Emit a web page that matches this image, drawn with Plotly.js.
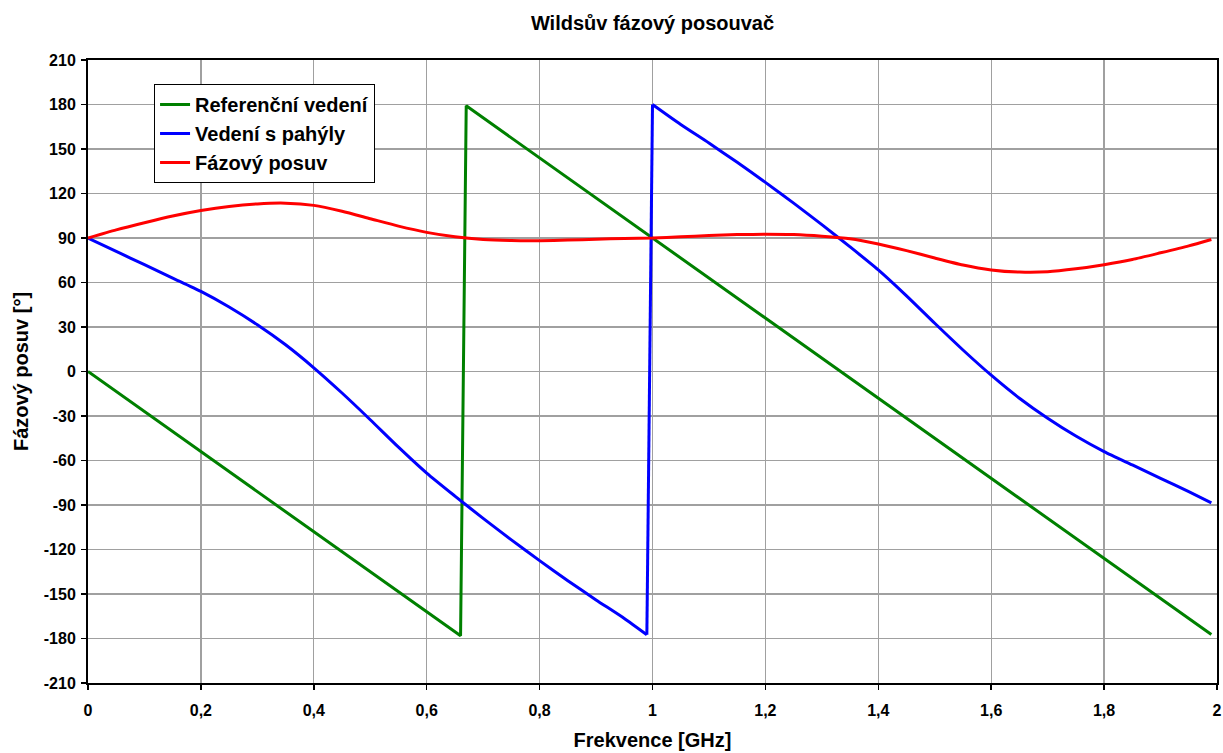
<!DOCTYPE html>
<html>
<head>
<meta charset="utf-8">
<script src="https://cdn.plot.ly/plotly-3.0.1.min.js"></script>
<style>
  html, body { margin: 0; padding: 0; background: #fff; }
  #chart { width: 1223px; height: 753px; }
</style>
</head>
<body>
<div id="chart"></div>
<script>
// Frequency points (GHz) and phases (degrees)
const refFreq = [0, 0.66, 0.67, 1.99];
const refPhase = [0, -178.2, 179.1, -177.3];

const stubFreq = [0, 0.05, 0.1, 0.15, 0.2, 0.25, 0.3, 0.35, 0.4, 0.45, 0.5, 0.55, 0.6, 0.65, 0.7, 0.75, 0.8, 0.85, 0.9, 0.95, 0.99,
                  1.0, 1.05, 1.1, 1.15, 1.2, 1.25, 1.3, 1.35, 1.4, 1.45, 1.5, 1.55, 1.6, 1.65, 1.7, 1.75, 1.8, 1.85, 1.9, 1.95, 1.99];
const stubPhase = [90, 81, 72, 63, 54, 43.5, 31.5, 18, 2.5, -14.5, -32.5, -51, -68.5, -84, -99, -113.5, -127.5, -141, -154, -166.5, -177.5,
                   180, 166.5, 154, 141, 127.5, 113.5, 99, 84, 68.5, 51, 32.5, 14.5, -2.5, -18, -31.5, -43.5, -54, -63, -72, -81, -88.5];

const shiftFreq = [0, 0.05, 0.1, 0.15, 0.2, 0.25, 0.3, 0.35, 0.4, 0.45, 0.5, 0.55, 0.6, 0.65, 0.7, 0.75, 0.8, 0.85, 0.9, 0.95, 1.0,
                   1.05, 1.1, 1.15, 1.2, 1.25, 1.3, 1.35, 1.4, 1.45, 1.5, 1.55, 1.6, 1.65, 1.7, 1.75, 1.8, 1.85, 1.9, 1.95, 1.99];
const shiftPhase = [90, 95.5, 100.3, 104.8, 108.5, 111.3, 113, 113.5, 112, 108, 103, 98, 93.8, 90.8, 89, 88.3, 88.2, 88.6, 89.2, 89.7, 90,
                    90.8, 91.7, 92.3, 92.6, 92.3, 91.2, 89.5, 86, 81.5, 76.5, 71.8, 68.5, 67, 67.2, 69.2, 72, 75.5, 80, 84.7, 89];

const seriesNames = ['Referenční vedení', 'Vedení s pahýly', 'Fázový posuv'];

const xTickVals = [0, 0.2, 0.4, 0.6, 0.8, 1, 1.2, 1.4, 1.6, 1.8, 2];
const xTickText = ['0', '0,2', '0,4', '0,6', '0,8', '1', '1,2', '1,4', '1,6', '1,8', '2'];
const yTickVals = [-210, -180, -150, -120, -90, -60, -30, 0, 30, 60, 90, 120, 150, 180, 210];
const yTickText = ['-210', '-180', '-150', '-120', '-90', '-60', '-30', '0', '30', '60', '90', '120', '150', '180', '210'];

const FONT = '"Liberation Sans", Arial, sans-serif';
const bold = s => '<b>' + s + '</b>';

// The stubbed-line phase wraps from -180 to +180 at 1 GHz: each smooth branch is
// drawn as a spline and the wrap itself as a straight segment.
const wrapAt = stubFreq.indexOf(1.0);
const BLUE = { color: '#0000ff', width: 3 };

const traces = [
  { x: refFreq, y: refPhase, name: seriesNames[0], legendgroup: 'a', mode: 'lines',
    line: { color: '#008000', width: 3 } },
  { x: stubFreq.slice(0, wrapAt), y: stubPhase.slice(0, wrapAt), name: seriesNames[1], legendgroup: 'b', mode: 'lines',
    line: Object.assign({ shape: 'spline', smoothing: 0.6 }, BLUE) },
  { x: stubFreq.slice(wrapAt - 1, wrapAt + 1), y: stubPhase.slice(wrapAt - 1, wrapAt + 1), name: seriesNames[1],
    legendgroup: 'b', showlegend: false, mode: 'lines', line: BLUE },
  { x: stubFreq.slice(wrapAt), y: stubPhase.slice(wrapAt), name: seriesNames[1], legendgroup: 'b', showlegend: false,
    mode: 'lines', line: Object.assign({ shape: 'spline', smoothing: 0.6 }, BLUE) },
  { x: shiftFreq, y: shiftPhase, name: seriesNames[2], legendgroup: 'c', mode: 'lines',
    line: { color: '#ff0000', width: 3, shape: 'spline', smoothing: 0.6 } }
];

const layout = {
  width: 1223,
  height: 753,
  paper_bgcolor: '#ffffff',
  plot_bgcolor: '#ffffff',
  margin: { l: 88, r: 6, t: 60, b: 70 },
  font: { family: FONT, color: '#000', size: 16 },
  title: {
    text: bold('Wildsův fázový posouvač'),
    font: { family: FONT, size: 20, color: '#000' },
    x: 0.5, xref: 'paper', xanchor: 'center',
    y: 1 - 23 / 753, yref: 'container', yanchor: 'middle'
  },
  xaxis: {
    range: [0, 2],
    tickvals: xTickVals,
    ticktext: xTickText.map(bold),
    ticks: 'outside', ticklen: 5, tickwidth: 1.5, tickcolor: '#000',
    ticklabelstandoff: 7,
    tickfont: { family: FONT, size: 16, color: '#000' },
    showgrid: true, gridcolor: '#a0a0a0', gridwidth: 1.3,
    showline: true, linecolor: '#000', linewidth: 2, mirror: true,
    zeroline: false,
    title: { text: bold('Frekvence [GHz]'), font: { family: FONT, size: 20, color: '#000' }, standoff: 15 }
  },
  yaxis: {
    range: [-210, 210],
    tickvals: yTickVals,
    ticktext: yTickText.map(bold),
    ticks: 'outside', ticklen: 5, tickwidth: 1.5, tickcolor: '#000',
    ticklabelstandoff: 2,
    tickfont: { family: FONT, size: 16, color: '#000' },
    showgrid: true, gridcolor: '#a0a0a0', gridwidth: 1.3,
    showline: true, linecolor: '#000', linewidth: 2, mirror: true,
    zeroline: false,
    title: { text: bold('Fázový posuv [°]'), font: { family: FONT, size: 20, color: '#000' }, standoff: 10 }
  },
  showlegend: true,
  legend: {
    x: 0.0585, xanchor: 'left',
    y: 0.9615, yanchor: 'top',
    bgcolor: '#ffffff',
    bordercolor: '#000', borderwidth: 1,
    font: { family: FONT, size: 20, color: '#000', weight: 'bold' },
    traceorder: 'grouped',
    tracegroupgap: 0,
    itemwidth: 30
  }
};

Plotly.newPlot('chart', traces, layout, { displayModeBar: false, staticPlot: true });
</script>
</body>
</html>
